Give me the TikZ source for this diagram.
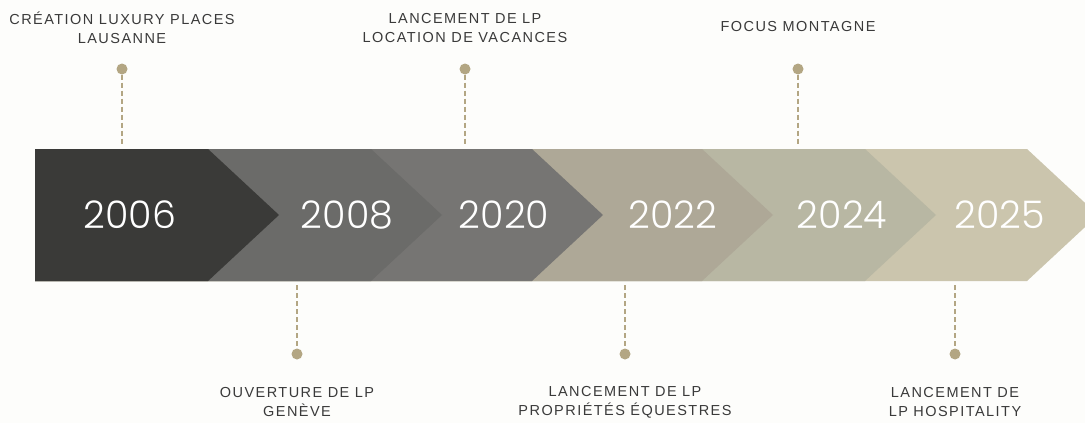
\documentclass[tikz,border=0pt]{standalone}
\usepackage{fontspec}
\setmainfont{Liberation Sans}
\newfontfamily\yearfont{Poppins Light}
\newfontfamily\labfont{Liberation Sans}[LetterSpace=10]
\definecolor{bg}{HTML}{FDFDFB}
\definecolor{cA}{HTML}{3A3A38}
\definecolor{cB}{HTML}{6B6B69}
\definecolor{cC}{HTML}{767573}
\definecolor{cD}{HTML}{AEA897}
\definecolor{cE}{HTML}{B8B7A3}
\definecolor{cF}{HTML}{CBC5AD}
\definecolor{tan}{HTML}{B3A683}
\definecolor{txt}{HTML}{3A3A3A}
\tikzset{
  year/.style={text=white,font=\yearfont\fontsize{38}{42}\selectfont,inner sep=0pt},
  lab/.style={text=txt,font=\labfont\fontsize{14.5}{19}\selectfont,align=center,inner sep=0pt},
  dot/.style={circle,fill=tan,inner sep=0pt,minimum size=11pt},
  link/.style={draw=tan,line width=1.5pt,dash pattern=on 5pt off 3pt}
}
\begin{document}
\begin{tikzpicture}[x=1pt,y=-1pt]
\fill[bg] (0,0) rectangle (1085,423);
\useasboundingbox (0,0) rectangle (1085,423);
\begin{scope}
\clip (0,0) rectangle (1085,423);
\foreach \t/\c in {1027/cF,865/cE,702/cD,532/cC,371/cB,208/cA}{
  \fill[\c] (35,149) -- (\t,149) -- (\t+71,215) -- (\t,281) -- (35,281) -- cycle;
}
\end{scope}
\node[year] (y1) at (130,215) {2006};
\node[year] (y2) at (347,215) {2008};
\node[year] (y3) at (504,215) {2020};
\node[year] (y4) at (673,215) {2022};
\node[year] (y5) at (842,215) {2024};
\node[year] (y6) at (1000,215) {2025};
% top events
\node[lab] (t1) at (122,28) {CRÉATION LUXURY PLACES\\LAUSANNE};
\node[lab] (t2) at (465,28) {LANCEMENT DE LP\\LOCATION DE VACANCES};
\node[lab] (t3) at (798,27) {FOCUS MONTAGNE};
\node[dot] (d1) at (122,69) {};
\node[dot] (d2) at (465,69) {};
\node[dot] (d3) at (798,69) {};
\coordinate (e1) at (122,146);
\coordinate (e2) at (465,146);
\coordinate (e3) at (798,146);
\draw[link] (d1) -- (e1);
\draw[link] (d2) -- (e2);
\draw[link] (d3) -- (e3);
% bottom events
\node[dot] (d4) at (297,354) {};
\node[dot] (d5) at (625,354) {};
\node[dot] (d6) at (955,354) {};
\coordinate (e4) at (297,285);
\coordinate (e5) at (625,285);
\coordinate (e6) at (955,285);
\draw[link] (e4) -- (d4);
\draw[link] (e5) -- (d5);
\draw[link] (e6) -- (d6);
\node[lab] (b1) at (297,402) {OUVERTURE DE LP\\GENÈVE};
\node[lab] (b2) at (625,402) {LANCEMENT DE LP\\PROPRIÉTÉS ÉQUESTRES};
\node[lab] (b3) at (955,402) {LANCEMENT DE\\LP HOSPITALITY};
\end{tikzpicture}
\end{document}
